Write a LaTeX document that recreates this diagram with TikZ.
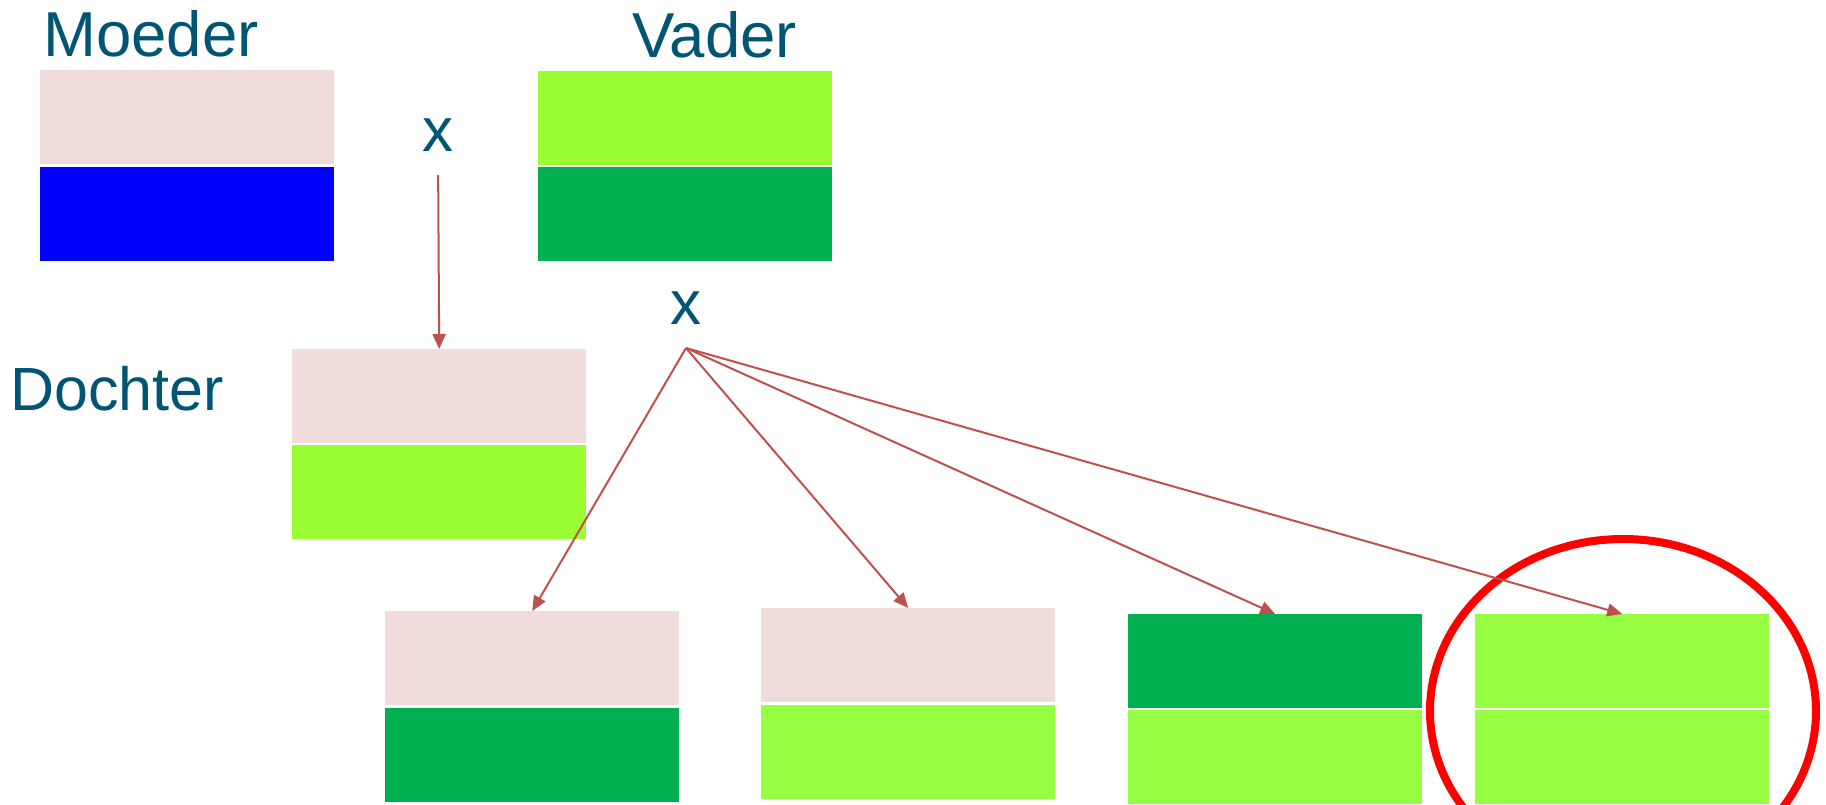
\documentclass[tikz,border=0pt]{standalone}
\usepackage{fontspec}
\setmainfont{Liberation Sans}
\usetikzlibrary{arrows.meta,shapes.geometric}
\definecolor{txt}{RGB}{0,84,116}
\definecolor{pinkc}{HTML}{F0DCDB}
\definecolor{bluec}{HTML}{0000FF}
\definecolor{lgreen}{HTML}{99FF33}
\definecolor{lgreenb}{HTML}{96FF42}
\definecolor{dgreen}{HTML}{00B050}
\definecolor{arrowc}{HTML}{C0504D}
\definecolor{ringc}{HTML}{FF0000}
\tikzset{
  box/.style={rectangle, inner sep=0pt, minimum width=294pt, minimum height=94pt, anchor=north west, draw=none},
  lbl/.style={text=txt, font=\fontsize{63.5}{63.5}\selectfont, inner sep=0pt},
  arr/.style={draw=arrowc, line width=2pt, -{Triangle[length=15pt,width=13pt]}}
}
\begin{document}
\begin{tikzpicture}[x=1pt,y=-1pt]
\useasboundingbox (0,0) rectangle (1826,804);
% labels
\node[lbl, anchor=base west] (moeder) at (43,56) {Moeder};
\node[lbl, anchor=base west] (vader) at (632,57) {Vader};
\node[lbl, anchor=base west, font=\fontsize{61}{61}\selectfont] (dochter) at (10,410) {Dochter};
\node[lbl, anchor=base, font=\fontsize{62}{62}\selectfont] (x1) at (438,151) {x};
\node[lbl, anchor=base, font=\fontsize{62}{62}\selectfont] (x2) at (685.5,324) {x};
% parents
\node[box, fill=pinkc] (m1) at (40,70) {};
\node[box, fill=bluec] (m2) at (40,167) {};
\node[box, fill=lgreen] (v1) at (538,71) {};
\node[box, fill=dgreen] (v2) at (538,167) {};
% daughter
\node[box, fill=pinkc] (d1) at (292,349) {};
\node[box, fill=lgreen] (d2) at (292,445) {};
% offspring
\node[box, fill=pinkc] (a1) at (385,611) {};
\node[box, fill=dgreen] (a2) at (385,708) {};
\node[box, fill=pinkc] (b1) at (761,608) {};
\node[box, fill=lgreenb] (b2) at (761,705) {};
\node[box, fill=dgreen] (c1) at (1128,614) {};
\node[box, fill=lgreenb] (c2) at (1128,710) {};
\node[box, fill=lgreenb] (e1) at (1475,614) {};
\node[box, fill=lgreenb] (e2) at (1475,710) {};
% ring
\node[draw=ringc, line width=8pt, ellipse, minimum width=386pt, minimum height=344pt, inner sep=0pt] (ring) at (1623,711) {};
% arrows
\coordinate (fan) at (686,348);
\draw[arr, shorten <=24pt] (x1.south) -- (d1.north);
\draw[arr] (fan) -- (a1.north);
\draw[arr] (fan) -- (b1.north);
\draw[arr] (fan) -- (c1.north);
\draw[arr] (fan) -- (e1.north);
\end{tikzpicture}
\end{document}
